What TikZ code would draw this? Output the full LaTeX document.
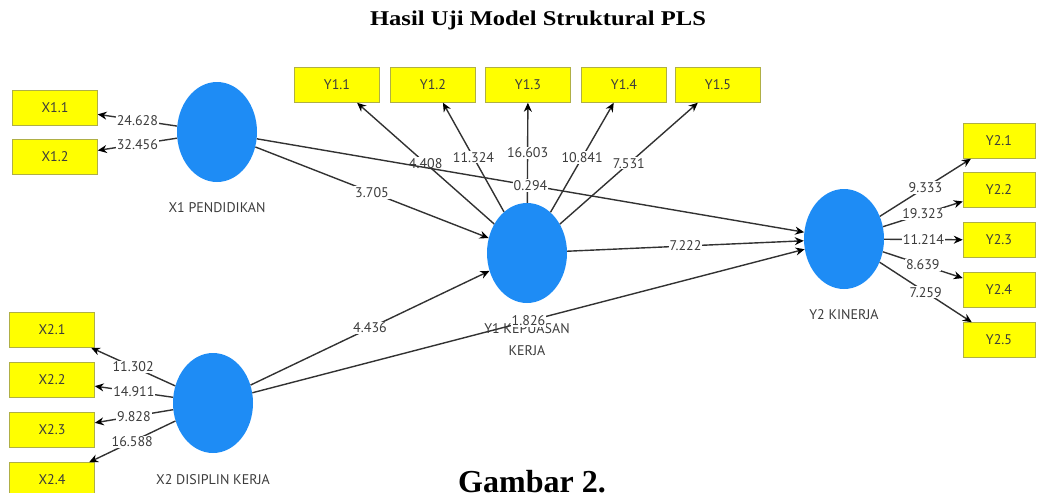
\documentclass[tikz,border=0pt]{standalone}
\usepackage{fontspec}
\setmainfont{PT Sans}
\newfontfamily\judulfont{Liberation Serif}
\usepackage{tikz}
\usetikzlibrary{arrows.meta,shapes,positioning}
\definecolor{biru}{RGB}{30,140,245}
\definecolor{kuning}{RGB}{255,255,0}
\definecolor{garisKuning}{RGB}{175,175,70}
\definecolor{abuGelap}{RGB}{50,50,50}
\definecolor{teks}{RGB}{60,60,60}
\tikzstyle{edge}  =[-{Stealth[length=9pt,width=8pt,color=black]},
                    draw=abuGelap, line width=1.4pt]
\tikzstyle{laten}=[ellipse, fill=biru, minimum width=80pt,
                    minimum height=100pt, inner sep=0pt]
\tikzstyle{namaLaten}=[text=teks, align=center, inner sep=0pt]
\tikzstyle{indikator}=[rectangle, fill=kuning, draw=garisKuning,
                    line width=0.5pt, minimum width=85pt,
                    minimum height=35pt, inner sep=0pt, text=teks]
\tikzstyle{bobot}=[fill=white, inner sep=1pt, text=teks]

\begin{document}
\begin{tikzpicture}[x=1pt,y=-1pt,font=\fontsize{14}{22}\selectfont]
    \path[use as bounding box,clip] (0,0) rectangle (1037,493);

    \draw (538,25) node (judul) [anchor=base] {\judulfont\bfseries\fontsize{21}{24}\selectfont\scalebox{1.17}[1]{Hasil Uji Model Struktural PLS}};
    \draw (532,492) node (gambar) [anchor=base] {\judulfont\bfseries\fontsize{32}{36}\selectfont Gambar 2.};

    % variabel laten
    \draw (217,132) node (x1) [laten] {};
    \draw (213,403) node (x2) [laten] {};
    \draw (527,253) node (y1) [laten] {};
    \draw (844,239) node (y2) [laten] {};
    \node (nx1) [namaLaten, below=20pt of x1] {X1 PENDIDIKAN};
    \node (nx2) [namaLaten, below=21pt of x2] {X2 DISIPLIN KERJA};
    \node (ny1) [namaLaten, below=20pt of y1] {Y1 KEPUASAN\\KERJA};
    \node (ny2) [namaLaten, below=20pt of y2] {Y2 KINERJA};

    % indikator
    \draw (55,108) node (x11) [indikator] {X1.1};
    \draw (55,157) node (x12) [indikator] {X1.2};
    \draw (52,330) node (x21) [indikator] {X2.1};
    \draw (52,380) node (x22) [indikator] {X2.2};
    \draw (52,430) node (x23) [indikator] {X2.3};
    \draw (52,480) node (x24) [indikator] {X2.4};
    \draw (337,85) node (y11) [indikator] {Y1.1};
    \draw (433,85) node (y12) [indikator] {Y1.2};
    \draw (528,85) node (y13) [indikator] {Y1.3};
    \draw (624,85) node (y14) [indikator] {Y1.4};
    \draw (718,85) node (y15) [indikator] {Y1.5};
    \draw (999,141) node (y21) [indikator,minimum width=72pt] {Y2.1};
    \draw (999,190) node (y22) [indikator,minimum width=72pt] {Y2.2};
    \draw (999,240) node (y23) [indikator,minimum width=72pt] {Y2.3};
    \draw (999,290) node (y24) [indikator,minimum width=72pt] {Y2.4};
    \draw (999,340) node (y25) [indikator,minimum width=72pt] {Y2.5};

    \foreach \i/\j/\w in{x1/x11/24.628,x1/x12/32.456,x2/x21/11.302,
    x2/x22/14.911,x2/x23/9.828,x2/x24/16.588,y1/y11/4.408,y1/y12/11.324,
    y1/y13/16.603,y1/y14/10.841,y1/y15/7.531,y2/y21/9.333,y2/y22/19.323,
    y2/y23/11.214,y2/y24/8.639,y2/y25/7.259}
        \draw [edge] (\i) to node[bobot] {\w} (\j);

    \foreach \i/\j/\w in{x1/y1/3.705,x1/y2/0.294,x2/y1/4.436,
    x2/y2/1.826,y1/y2/7.222}
        \draw [edge] (\i) to node[bobot] {\w} (\j);

\end{tikzpicture}
\end{document}
